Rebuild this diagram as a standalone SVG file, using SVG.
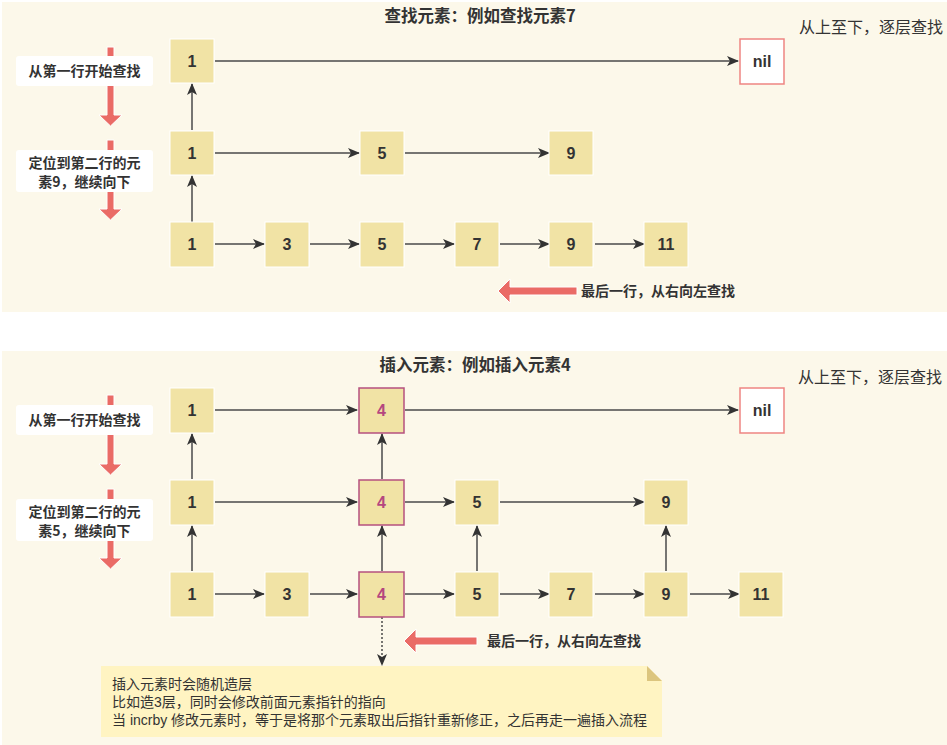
<svg xmlns="http://www.w3.org/2000/svg" width="947" height="745" viewBox="0 0 947 745">
<defs>
<marker id="ah" markerUnits="userSpaceOnUse" markerWidth="12" markerHeight="10" refX="11" refY="5" orient="auto">
<path d="M0,0 L12,5 L0,10 L3,5 Z" fill="#333"/>
</marker>
</defs>
<style>
.bg{fill:#FCF8EA}
.n{fill:#F1E3A5;stroke:#fff;stroke-width:1}
.n4{fill:#F1E3A5;stroke:#B5507F;stroke-width:1.5}
.nil{fill:#fff;stroke:#EE8582;stroke-width:1.5}
.t{font-family:"Liberation Sans","Noto Sans CJK SC",sans-serif;font-weight:bold;font-size:16px;fill:#333;text-anchor:middle}
.t4{font-family:"Liberation Sans","Noto Sans CJK SC",sans-serif;font-weight:bold;font-size:16px;fill:#B5467F;text-anchor:middle}
.lab{font-family:"Noto Sans CJK SC",sans-serif;font-weight:bold;font-size:14px;fill:#333;text-anchor:middle}
.labl{font-family:"Noto Sans CJK SC",sans-serif;font-weight:bold;font-size:14px;fill:#333}
.title{font-family:"Noto Sans CJK SC",sans-serif;font-weight:bold;font-size:16.5px;fill:#333;text-anchor:middle}
.side{font-family:"Noto Sans CJK SC",sans-serif;font-size:16px;fill:#333}
.note{font-family:"Liberation Sans","Noto Sans CJK SC",sans-serif;font-size:14px;fill:#333}
.box{fill:#fff}
.ra{fill:#EA6B66;stroke:#fff;stroke-width:1}
.c line{stroke:#4a4a4a;stroke-width:1.5;marker-end:url(#ah)}
</style>
<rect class="bg" x="2" y="2" width="945" height="310"/>
<rect class="bg" x="2" y="351" width="945" height="394"/>

<!-- titles -->
<text class="title" x="480" y="22">查找元素：例如查找元素7</text>
<text class="side" x="799" y="33">从上至下，逐层查找</text>
<text class="title" x="475" y="371">插入元素：例如插入元素4</text>
<text class="side" x="798" y="383">从上至下，逐层查找</text>

<!-- red arrows + labels -->
<g id="guide-top">
<polygon class="ra" points="107,47 114,47 114,115 122,115 110.5,126 99,115 107,115"/>
<rect class="box" x="16" y="56" width="137" height="30" rx="3"/>
<text class="lab" x="84.5" y="76">从第一行开始查找</text>
<polygon class="ra" points="107,140 114,140 114,209 122,209 110.5,220 99,209 107,209"/>
<rect class="box" x="16" y="150" width="137" height="42" rx="3"/>
<text class="lab" x="84.5" y="168">定位到第二行的元</text>
<text class="lab" x="84.5" y="187">素9，继续向下</text>
<polygon class="ra" points="498,291 510,279 510,287 577,287 577,295 510,295 510,303"/>
<text class="labl" x="581" y="296">最后一行，从右向左查找</text>
</g>
<g id="guide-bottom">
<polygon class="ra" points="107,395 114,395 114,464 122,464 110.5,475 99,464 107,464"/>
<rect class="box" x="16" y="405" width="137" height="30" rx="3"/>
<text class="lab" x="84.5" y="425">从第一行开始查找</text>
<polygon class="ra" points="107,489 114,489 114,558 122,558 110.5,569 99,558 107,558"/>
<rect class="box" x="16" y="499" width="137" height="42" rx="3"/>
<text class="lab" x="84.5" y="517">定位到第二行的元</text>
<text class="lab" x="84.5" y="536">素5，继续向下</text>
<polygon class="ra" points="404,641 416,629 416,637 477,637 477,645 416,645 416,653"/>
<text class="labl" x="487" y="646">最后一行，从右向左查找</text>
</g>

<!-- connectors -->
<g id="connectors" class="c">
<line x1="215" y1="61" x2="738" y2="61"/>
<line x1="215" y1="153" x2="359" y2="153"/>
<line x1="405" y1="153" x2="549" y2="153"/>
<line x1="215" y1="244" x2="264" y2="244"/>
<line x1="310" y1="244" x2="359" y2="244"/>
<line x1="405" y1="244" x2="454" y2="244"/>
<line x1="500" y1="244" x2="549" y2="244"/>
<line x1="595" y1="244" x2="644" y2="244"/>
<line x1="192" y1="222" x2="192" y2="176"/>
<line x1="192" y1="130" x2="192" y2="84"/>
<line x1="215" y1="410" x2="357" y2="410"/>
<line x1="405" y1="410" x2="738" y2="410"/>
<line x1="215" y1="502" x2="357" y2="502"/>
<line x1="405" y1="502" x2="454" y2="502"/>
<line x1="500" y1="502" x2="644" y2="502"/>
<line x1="215" y1="594" x2="264" y2="594"/>
<line x1="310" y1="594" x2="357" y2="594"/>
<line x1="405" y1="594" x2="454" y2="594"/>
<line x1="500" y1="594" x2="549" y2="594"/>
<line x1="595" y1="594" x2="644" y2="594"/>
<line x1="690" y1="594" x2="739" y2="594"/>
<line x1="192" y1="571" x2="192" y2="526"/>
<line x1="192" y1="479" x2="192" y2="434"/>
<line x1="382" y1="571" x2="382" y2="526"/>
<line x1="382" y1="479" x2="382" y2="434"/>
<line x1="477" y1="571" x2="477" y2="526"/>
<line x1="666" y1="571" x2="666" y2="526"/>
<line x1="382" y1="617" x2="382" y2="665" style="stroke-dasharray:2,2"/>
</g>

<!-- top nodes -->
<g id="t-r1-1"><rect class="n" x="170" y="39" width="44" height="44"/><text class="t" x="192" y="67">1</text></g>
<g id="t-nil"><rect class="nil" x="740" y="39" width="44" height="45"/><text class="t" x="762" y="67">nil</text></g>
<g id="t-r2-1"><rect class="n" x="170" y="131" width="44" height="44"/><text class="t" x="192" y="159">1</text></g>
<g id="t-r2-5"><rect class="n" x="360" y="131" width="44" height="44"/><text class="t" x="382" y="159">5</text></g>
<g id="t-r2-9"><rect class="n" x="549" y="131" width="44" height="44"/><text class="t" x="571" y="159">9</text></g>
<g id="t-r3-1"><rect class="n" x="170" y="222" width="44" height="45"/><text class="t" x="192" y="250">1</text></g>
<g id="t-r3-3"><rect class="n" x="265" y="222" width="44" height="45"/><text class="t" x="287" y="250">3</text></g>
<g id="t-r3-5"><rect class="n" x="360" y="222" width="44" height="45"/><text class="t" x="382" y="250">5</text></g>
<g id="t-r3-7"><rect class="n" x="455" y="222" width="44" height="45"/><text class="t" x="477" y="250">7</text></g>
<g id="t-r3-9"><rect class="n" x="549" y="222" width="44" height="45"/><text class="t" x="571" y="250">9</text></g>
<g id="t-r3-11"><rect class="n" x="644" y="222" width="44" height="45"/><text class="t" x="666" y="250">11</text></g>

<!-- bottom nodes -->
<g id="b-r1-1"><rect class="n" x="170" y="388" width="44" height="45"/><text class="t" x="192" y="416">1</text></g>
<g id="b-r1-4"><rect class="n4" x="359" y="388" width="45" height="45"/><text class="t4" x="381.5" y="416">4</text></g>
<g id="b-nil"><rect class="nil" x="740" y="388" width="44" height="45"/><text class="t" x="762" y="416">nil</text></g>
<g id="b-r2-1"><rect class="n" x="170" y="480" width="44" height="45"/><text class="t" x="192" y="508">1</text></g>
<g id="b-r2-4"><rect class="n4" x="359" y="480" width="45" height="45"/><text class="t4" x="381.5" y="508">4</text></g>
<g id="b-r2-5"><rect class="n" x="455" y="480" width="44" height="45"/><text class="t" x="477" y="508">5</text></g>
<g id="b-r2-9"><rect class="n" x="644" y="480" width="44" height="45"/><text class="t" x="666" y="508">9</text></g>
<g id="b-r3-1"><rect class="n" x="170" y="572" width="44" height="45"/><text class="t" x="192" y="600">1</text></g>
<g id="b-r3-3"><rect class="n" x="265" y="572" width="44" height="45"/><text class="t" x="287" y="600">3</text></g>
<g id="b-r3-4"><rect class="n4" x="359" y="572" width="45" height="45"/><text class="t4" x="381.5" y="600">4</text></g>
<g id="b-r3-5"><rect class="n" x="455" y="572" width="44" height="45"/><text class="t" x="477" y="600">5</text></g>
<g id="b-r3-7"><rect class="n" x="549" y="572" width="44" height="45"/><text class="t" x="571" y="600">7</text></g>
<g id="b-r3-9"><rect class="n" x="644" y="572" width="44" height="45"/><text class="t" x="666" y="600">9</text></g>
<g id="b-r3-11"><rect class="n" x="739" y="572" width="44" height="45"/><text class="t" x="761" y="600">11</text></g>

<!-- note -->
<g id="note">
<path d="M101,666 L647,666 L662,681 L662,737 L101,737 Z" fill="#FFF4C2"/>
<path d="M647,666 L662,681 L647,681 Z" fill="#DCC57E"/>
<text class="note" x="112" y="689">插入元素时会随机造层</text>
<text class="note" x="112" y="707">比如造3层，同时会修改前面元素指针的指向</text>
<text class="note" x="112" y="725">当 incrby 修改元素时，等于是将那个元素取出后指针重新修正，之后再走一遍插入流程</text>
</g>
</svg>
